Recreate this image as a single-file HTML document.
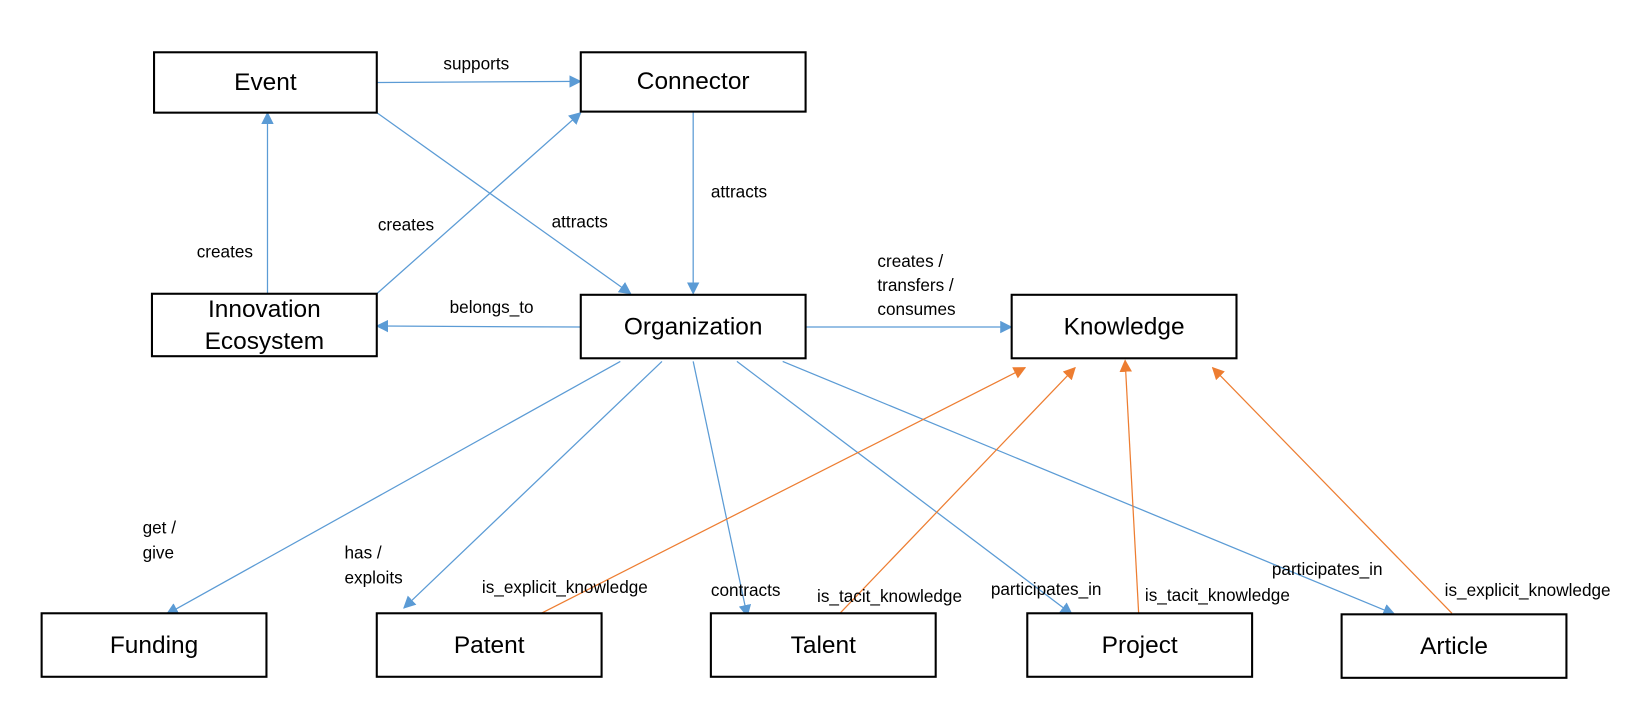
<!DOCTYPE html>
<html><head><meta charset="utf-8"><style>
html,body{margin:0;padding:0;background:#fff;}
svg{display:block;}
.b{fill:#fff;stroke:#000;stroke-width:2;}
.t{font-family:"Liberation Sans",sans-serif;font-size:23.5px;text-anchor:middle;dominant-baseline:middle;fill:#000;}
.l{font-family:"Liberation Sans",sans-serif;font-size:16.5px;dominant-baseline:middle;fill:#000;}
.bl{stroke:#5b9bd5;stroke-width:1.2;fill:none;}
.or{stroke:#ed7d31;stroke-width:1.2;fill:none;}
</style></head><body>
<svg width="1632" height="702" viewBox="0 0 1568 674" xmlns="http://www.w3.org/2000/svg">
<defs>
<marker id="ab" markerWidth="12" markerHeight="12" refX="11" refY="6" orient="auto" markerUnits="userSpaceOnUse"><path d="M0,0 L12,6 L0,12 z" fill="#5b9bd5"/></marker>
<marker id="ao" markerWidth="12" markerHeight="12" refX="11" refY="6" orient="auto" markerUnits="userSpaceOnUse"><path d="M0,0 L12,6 L0,12 z" fill="#ed7d31"/></marker>
</defs>
<g class="bl" marker-end="url(#ab)">
<line x1="362" y1="79" x2="558" y2="78"/>
<line x1="257" y1="282" x2="257" y2="108"/>
<line x1="362" y1="282" x2="558" y2="108"/>
<line x1="362" y1="108" x2="606" y2="282"/>
<line x1="666" y1="107" x2="666" y2="282"/>
<line x1="558" y1="314" x2="362" y2="313"/>
<line x1="774" y1="314" x2="972" y2="314"/>
<line x1="596" y1="347" x2="160" y2="590"/>
<line x1="636" y1="347" x2="388" y2="584"/>
<line x1="666" y1="347" x2="718" y2="592"/>
<line x1="708" y1="347" x2="1030" y2="590"/>
<line x1="752" y1="347" x2="1340" y2="590"/>
</g>
<g class="or" marker-end="url(#ao)">
<line x1="520" y1="589" x2="985" y2="353"/>
<line x1="807" y1="589" x2="1033" y2="353"/>
<line x1="1094" y1="589" x2="1081" y2="346"/>
<line x1="1395" y1="589" x2="1165" y2="353"/>
</g>
<rect class="b" x="148" y="50" width="214" height="58"/>
<rect class="b" x="558" y="50" width="216" height="57"/>
<rect class="b" x="146" y="282" width="216" height="60"/>
<rect class="b" x="558" y="283" width="216" height="61"/>
<rect class="b" x="972" y="283" width="216" height="61"/>
<rect class="b" x="40" y="589" width="216" height="61"/>
<rect class="b" x="362" y="589" width="216" height="61"/>
<rect class="b" x="683" y="589" width="216" height="61"/>
<rect class="b" x="987" y="589" width="216" height="61"/>
<rect class="b" x="1289" y="590" width="216" height="61"/>
<text class="t" x="255" y="80">Event</text>
<text class="t" x="666" y="79">Connector</text>
<text class="t" x="254" y="298">Innovation</text>
<text class="t" x="254" y="329">Ecosystem</text>
<text class="t" x="666" y="315">Organization</text>
<text class="t" x="1080" y="315">Knowledge</text>
<text class="t" x="148" y="621">Funding</text>
<text class="t" x="470" y="621">Patent</text>
<text class="t" x="791" y="621">Talent</text>
<text class="t" x="1095" y="621">Project</text>
<text class="t" x="1397" y="622">Article</text>
<text class="l" x="426" y="62">supports</text>
<text class="l" x="189" y="243">creates</text>
<text class="l" x="363" y="217">creates</text>
<text class="l" x="530" y="214">attracts</text>
<text class="l" x="683" y="185">attracts</text>
<text class="l" x="432" y="296">belongs_to</text>
<text class="l" x="843" y="252">creates /</text>
<text class="l" x="843" y="275">transfers /</text>
<text class="l" x="843" y="298">consumes</text>
<text class="l" x="137" y="508">get /</text>
<text class="l" x="137" y="532">give</text>
<text class="l" x="331" y="532">has /</text>
<text class="l" x="331" y="556">exploits</text>
<text class="l" x="463" y="565">is_explicit_knowledge</text>
<text class="l" x="683" y="568">contracts</text>
<text class="l" x="785" y="574">is_tacit_knowledge</text>
<text class="l" x="952" y="567">participates_in</text>
<text class="l" x="1100" y="573">is_tacit_knowledge</text>
<text class="l" x="1222" y="548">participates_in</text>
<text class="l" x="1388" y="568">is_explicit_knowledge</text>
</svg>
</body></html>
